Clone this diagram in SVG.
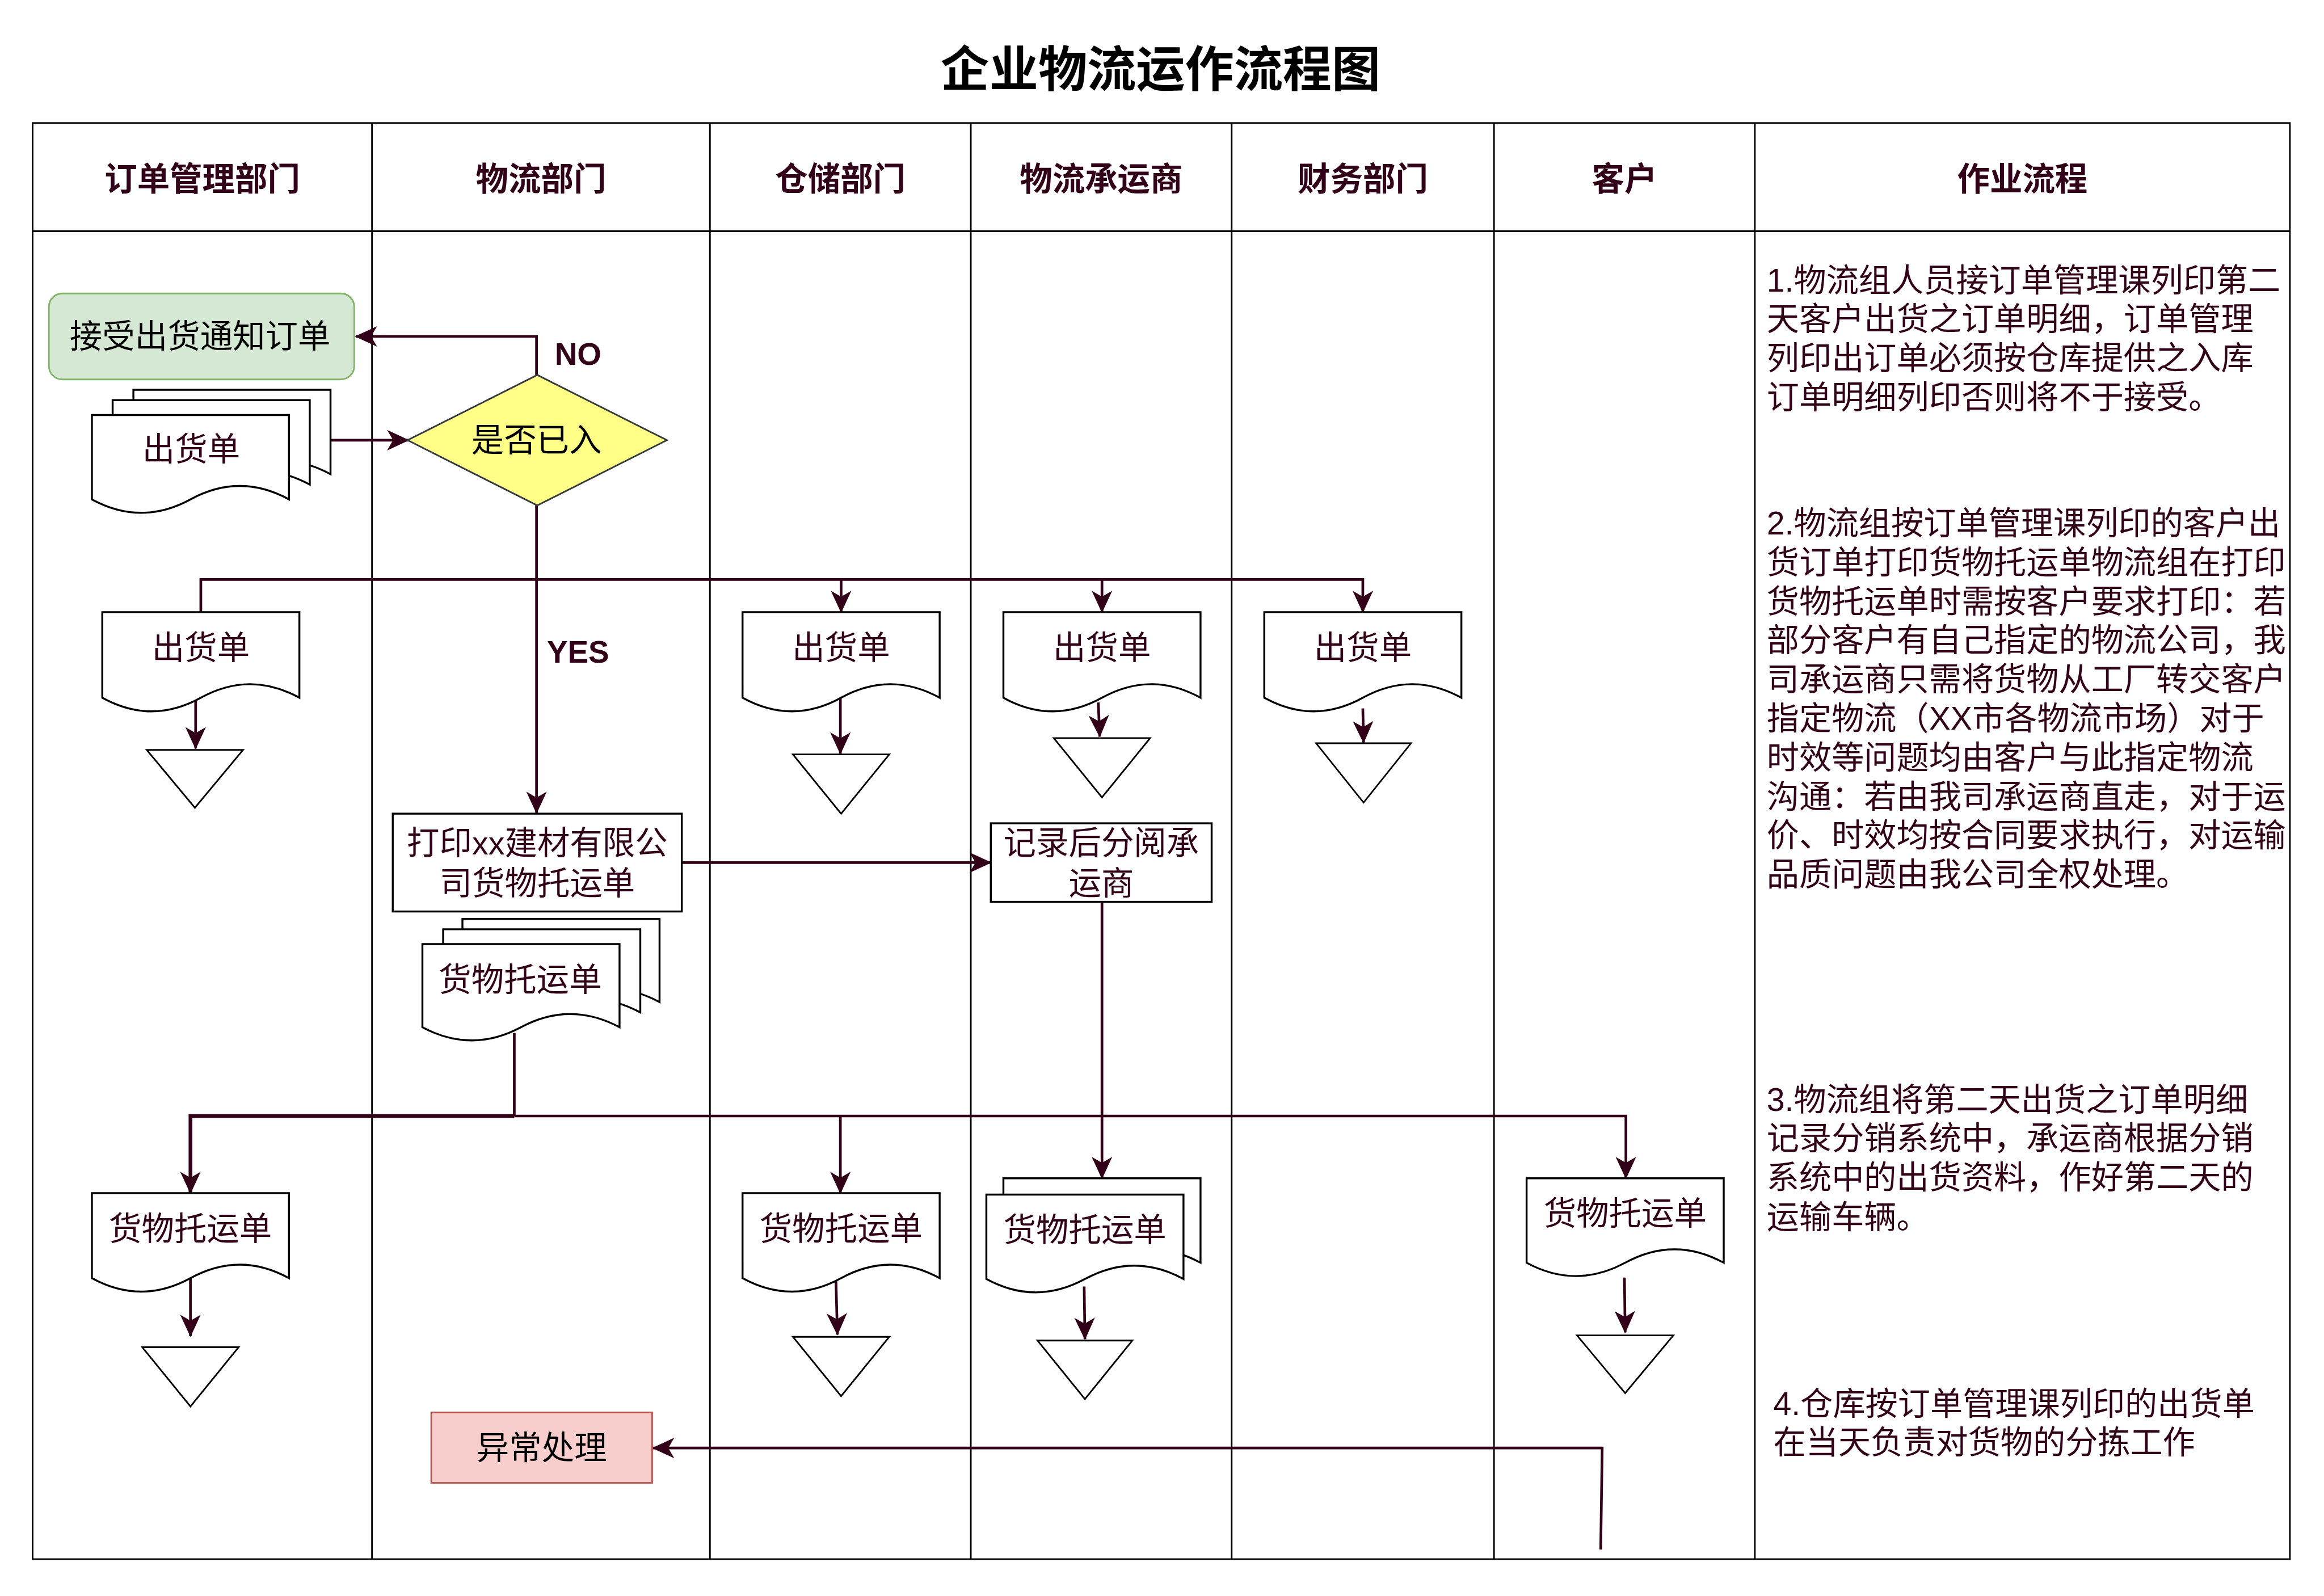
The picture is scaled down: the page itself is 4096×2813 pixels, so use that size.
<svg xmlns="http://www.w3.org/2000/svg" width="4096" height="2813" viewBox="0 0 4096 2813">
<style>
.lane{fill:none;stroke:#000;stroke-width:1.1}
.title{font-family:"Liberation Sans","Noto Sans CJK SC",sans-serif;font-weight:bold;font-size:33px;fill:#000;text-anchor:middle;dominant-baseline:central}
.hdr{font-family:"Liberation Sans","Noto Sans CJK SC",sans-serif;font-weight:bold;font-size:22px;fill:#33001a;text-anchor:middle;dominant-baseline:central}
.t{font-family:"Liberation Sans","Noto Sans CJK SC",sans-serif;font-size:22px;fill:#33001a;text-anchor:middle;dominant-baseline:central}
.tk{fill:#000}
.lbl{font-family:"Liberation Sans","Noto Sans CJK SC",sans-serif;font-weight:bold;font-size:21px;fill:#33001a;text-anchor:middle;dominant-baseline:central}
.para{font-family:"Liberation Sans","Noto Sans CJK SC",sans-serif;font-size:21.9px;fill:#33001a;dominant-baseline:central}
.doc{fill:#fff;stroke:#000;stroke-width:1.3}
.box{fill:#fff;stroke:#000;stroke-width:1.3}
.tri{fill:#fff;stroke:#000;stroke-width:1.1}
.c{fill:none;stroke:#33001a;stroke-width:1.8;marker-end:url(#arr)}
.cn{fill:none;stroke:#33001a;stroke-width:1.8}
</style>
<defs>
<marker id="arr" markerUnits="userSpaceOnUse" markerWidth="15" markerHeight="15" viewBox="0 0 13 12" refX="12.5" refY="6" orient="auto">
<path d="M0,0 L13,6 L0,12 L3.5,6 Z" fill="#33001a"/>
</marker>
</defs>
<rect width="4096" height="2813" fill="#fff"/>
<g transform="scale(2.61224)">
<text class="title" x="783" y="47">企业物流运作流程图</text>
<g id="table">
<rect class="lane" x="22" y="83" width="1523" height="969"/>
<line class="lane" x1="22" y1="156" x2="1545" y2="156"/>
<line class="lane" x1="251" y1="83" x2="251" y2="1052"/>
<line class="lane" x1="479" y1="83" x2="479" y2="1052"/>
<line class="lane" x1="655" y1="83" x2="655" y2="1052"/>
<line class="lane" x1="831" y1="83" x2="831" y2="1052"/>
<line class="lane" x1="1008" y1="83" x2="1008" y2="1052"/>
<line class="lane" x1="1184" y1="83" x2="1184" y2="1052"/>
<text class="hdr" x="136.5" y="121">订单管理部门</text>
<text class="hdr" x="365" y="121">物流部门</text>
<text class="hdr" x="567" y="121">仓储部门</text>
<text class="hdr" x="743" y="121">物流承运商</text>
<text class="hdr" x="919.5" y="121">财务部门</text>
<text class="hdr" x="1096" y="121">客户</text>
<text class="hdr" x="1364.5" y="121">作业流程</text>
</g>
<g id="connectors">
<path class="c" d="M362,253 V227 H240"/>
<path class="c" d="M223,297 H275.6"/>
<path class="c" d="M362,341 V548.5"/>
<path class="c" d="M135.5,413 V391 H919.5 V413"/>
<path class="c" d="M567.5,391 V413"/>
<path class="c" d="M743.5,391 V413"/>
<path class="c" d="M132,472 V505"/>
<path class="c" d="M567,468 V508.5"/>
<path class="c" d="M741,474 L742,497"/>
<path class="c" d="M919.5,478 L920,501"/>
<path class="c" d="M460,582 H668.5"/>
<path class="c" d="M743.5,608.5 V795"/>
<path class="cn" d="M347,697 V753"/>
<path class="c" d="M347,753 H128.5 V805" style="stroke-width:2.5"/>
<path class="c" d="M347,753 H1097 V795"/>
<path class="c" d="M567,753 V805"/>
<path class="c" d="M128.5,862 V901.5"/>
<path class="c" d="M564,864 L565,900.5"/>
<path class="c" d="M731.5,868 L732,903.5"/>
<path class="c" d="M1096,862 L1096.5,899"/>
<path class="c" d="M1080,1045.5 L1081,977 H440.5"/>
<text class="lbl" x="390" y="239">NO</text>
<text class="lbl" x="390" y="440">YES</text>
</g>
<g id="n_receive">
<rect x="33" y="198" width="206" height="58" rx="9" fill="#d5e8d4" stroke="#82b366" stroke-width="1.1"/>
<text class="t tk" x="135" y="227">接受出货通知订单</text>
</g>
<g id="n_multidoc1">
<path class="doc" d="M90,263 H223 V319.95 Q189.75,301.86 156.5,319.95 Q123.25,338.04 90,319.95 Z"/>
<path class="doc" d="M76,270 H209 V326.95 Q175.75,308.86 142.5,326.95 Q109.25,345.04 76,326.95 Z"/>
<path class="doc" d="M62,280 H195 V336.95 Q161.75,318.86 128.5,336.95 Q95.25,355.04 62,336.95 Z"/>
<text class="t" x="129" y="303">出货单</text>
</g>
<g id="n_decision">
<path d="M362.5,253 L450,297 L362.5,341 L275,297 Z" fill="#ffff88" stroke="#36393d" stroke-width="1.1"/>
<text class="t tk" x="362" y="297">是否已入</text>
</g>
<g id="n_doc_l1">
<path class="doc" d="M69,413 H202 V470.8 Q168.75,452.44 135.5,470.8 Q102.25,489.16 69,470.8 Z"/>
<text class="t" x="135.5" y="437">出货单</text>
</g>
<g id="n_tri_l1"><path class="tri" d="M99,506 H164 L131.5,545 Z"/></g>
<g id="n_doc_l3">
<path class="doc" d="M501,413 H634 V470.8 Q600.75,452.44 567.5,470.8 Q534.25,489.16 501,470.8 Z"/>
<text class="t" x="567.5" y="437">出货单</text>
</g>
<g id="n_tri_l3"><path class="tri" d="M535,509 H600 L567.5,549 Z"/></g>
<g id="n_doc_l4">
<path class="doc" d="M677,413 H810 V470.8 Q776.75,452.44 743.5,470.8 Q710.25,489.16 677,470.8 Z"/>
<text class="t" x="743.5" y="437">出货单</text>
</g>
<g id="n_tri_l4"><path class="tri" d="M711,498 H776 L743.5,538 Z"/></g>
<g id="n_doc_l5">
<path class="doc" d="M853,413 H986 V470.8 Q952.75,452.44 919.5,470.8 Q886.25,489.16 853,470.8 Z"/>
<text class="t" x="919.5" y="437">出货单</text>
</g>
<g id="n_tri_l5"><path class="tri" d="M888,501.5 H952 L920,541.5 Z"/></g>
<g id="n_print">
<rect class="box" x="265" y="549" width="195" height="66"/>
<text class="t" x="362.5" y="569">打印xx建材有限公</text>
<text class="t" x="362.5" y="596">司货物托运单</text>
</g>
<g id="n_record">
<rect class="box" x="668.5" y="555.5" width="149" height="53"/>
<text class="t" x="743" y="569">记录后分阅承</text>
<text class="t" x="743" y="596">运商</text>
</g>
<g id="n_multidoc2">
<path class="doc" d="M312,620 H445 V676.1 Q411.75,658.28 378.5,676.1 Q345.25,693.92 312,676.1 Z"/>
<path class="doc" d="M299,627 H432 V683.1 Q398.75,665.28 365.5,683.1 Q332.25,700.92 299,683.1 Z"/>
<path class="doc" d="M285,637 H418 V693.1 Q384.75,675.28 351.5,693.1 Q318.25,710.92 285,693.1 Z"/>
<text class="t" x="351" y="661">货物托运单</text>
</g>
<g id="n_bdoc_l1">
<path class="doc" d="M62,805 H195 V862.4 Q161.75,844.15 128.5,862.4 Q95.25,880.6 62,862.4 Z"/>
<text class="t" x="128.5" y="829">货物托运单</text>
</g>
<g id="n_btri_l1"><path class="tri" d="M96,909 H161 L128.5,949 Z"/></g>
<g id="n_bdoc_l3">
<path class="doc" d="M501,805 H634 V862.4 Q600.75,844.15 567.5,862.4 Q534.25,880.6 501,862.4 Z"/>
<text class="t" x="567.5" y="829">货物托运单</text>
</g>
<g id="n_btri_l3"><path class="tri" d="M535,902 H600 L567.5,942 Z"/></g>
<g id="n_bdoc_l4">
<path class="doc" d="M677,795 H810 V852 Q776.75,833.86 743.5,852 Q710.25,870 677,852 Z"/>
<path class="doc" d="M665.5,806 H798.5 V863 Q765.25,844.86 732,863 Q698.75,881 665.5,863 Z"/>
<text class="t" x="732" y="830">货物托运单</text>
</g>
<g id="n_btri_l4"><path class="tri" d="M700,904.5 H764 L732,944 Z"/></g>
<g id="n_bdoc_l6">
<path class="doc" d="M1030,795 H1163 V852 Q1129.75,833.86 1096.5,852 Q1063.25,870 1030,852 Z"/>
<text class="t" x="1096.5" y="819">货物托运单</text>
</g>
<g id="n_btri_l6"><path class="tri" d="M1064,901 H1129 L1096.5,940 Z"/></g>
<g id="n_exception">
<rect x="291" y="953" width="149" height="47.5" fill="#f8cecc" stroke="#b85450" stroke-width="1.1"/>
<text class="t tk" x="365.5" y="977">异常处理</text>
</g>
<g id="notes">
<text class="para" x="1192" y="189">1.物流组人员接订单管理课列印第二</text>
<text class="para" x="1192" y="215.3">天客户出货之订单明细，订单管理</text>
<text class="para" x="1192" y="241.6">列印出订单必须按仓库提供之入库</text>
<text class="para" x="1192" y="268">订单明细列印否则将不于接受。</text>
<text class="para" x="1192" y="353">2.物流组按订单管理课列印的客户出</text>
<text class="para" x="1192" y="379.3">货订单打印货物托运单物流组在打印</text>
<text class="para" x="1192" y="405.6">货物托运单时需按客户要求打印：若</text>
<text class="para" x="1192" y="432">部分客户有自己指定的物流公司，我</text>
<text class="para" x="1192" y="458.3">司承运商只需将货物从工厂转交客户</text>
<text class="para" x="1192" y="484.6">指定物流（XX市各物流市场）对于</text>
<text class="para" x="1192" y="511">时效等问题均由客户与此指定物流</text>
<text class="para" x="1192" y="537.3">沟通：若由我司承运商直走，对于运</text>
<text class="para" x="1192" y="563.6">价、时效均按合同要求执行，对运输</text>
<text class="para" x="1192" y="590">品质问题由我公司全权处理。</text>
<text class="para" x="1192" y="742">3.物流组将第二天出货之订单明细</text>
<text class="para" x="1192" y="768">记录分销系统中，承运商根据分销</text>
<text class="para" x="1192" y="794.5">系统中的出货资料，作好第二天的</text>
<text class="para" x="1192" y="821">运输车辆。</text>
<text class="para" x="1196.5" y="947">4.仓库按订单管理课列印的出货单</text>
<text class="para" x="1196.5" y="973">在当天负责对货物的分拣工作</text>
</g>
</g>
</svg>
